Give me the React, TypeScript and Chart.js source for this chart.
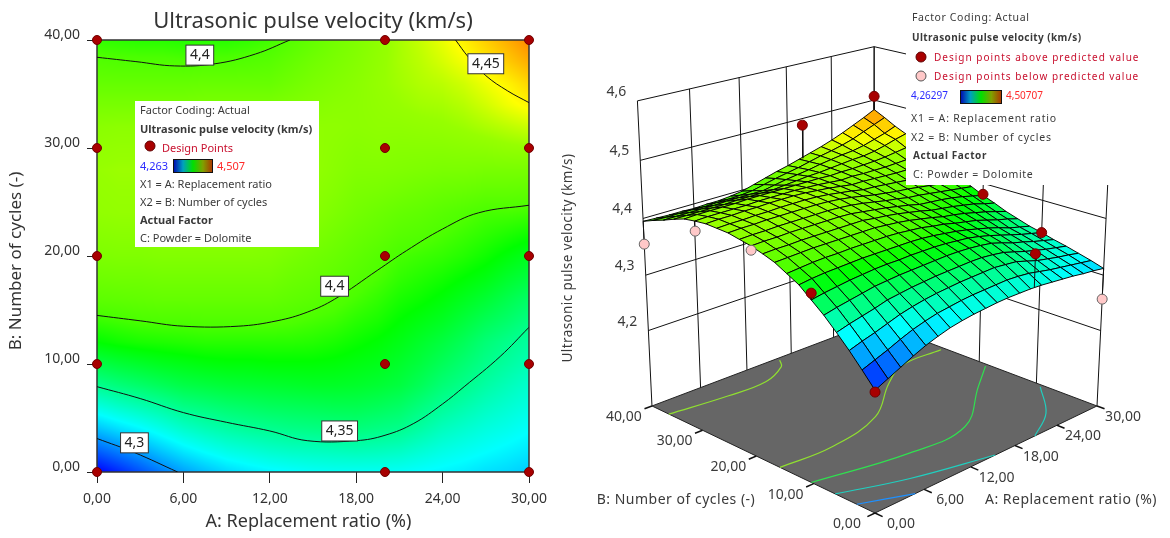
import React, { useEffect, useRef } from "react";
import { Chart, registerables } from "chart.js";

Chart.register(...registerables);

const FONT = '"Noto Sans"';
const TITLE = "Ultrasonic pulse velocity (km/s)";
const X_TITLE = "A: Replacement ratio (%)";
const Y_TITLE = "B: Number of cycles (-)";
const Z_TITLE = TITLE;
const A_TICKS = [0, 6, 12, 18, 24, 30];
const B_TICKS = [0, 10, 20, 30, 40];
const Z_TICKS = [4.2, 4.3, 4.4, 4.5, 4.6];
const Z_FLOOR = 4.06;
const DESIGN_A = [0, 20, 30];
const DESIGN_B = [0, 10, 20, 30, 40];

// Predicted velocity, km/s: rows B = 0, 2 ... 40; columns A = 0, 1.5 ... 30
const velocity = [
  [4.263,4.273,4.283,4.293,4.302,4.309,4.315,4.319,4.322,4.324,4.326,4.327,4.327,4.327,4.326,4.324,4.322,4.320,4.317,4.315,4.312],
  [4.287,4.295,4.303,4.312,4.320,4.326,4.331,4.334,4.337,4.339,4.340,4.341,4.342,4.341,4.339,4.335,4.331,4.328,4.325,4.322,4.319],
  [4.310,4.317,4.323,4.330,4.337,4.342,4.346,4.349,4.351,4.353,4.354,4.355,4.356,4.354,4.352,4.346,4.340,4.336,4.332,4.329,4.325],
  [4.331,4.337,4.342,4.347,4.353,4.356,4.359,4.361,4.363,4.364,4.365,4.366,4.366,4.364,4.361,4.355,4.349,4.344,4.339,4.335,4.331],
  [4.351,4.356,4.360,4.364,4.368,4.370,4.372,4.373,4.374,4.375,4.376,4.376,4.375,4.373,4.370,4.364,4.357,4.352,4.346,4.341,4.336],
  [4.368,4.372,4.375,4.378,4.380,4.382,4.383,4.383,4.384,4.384,4.384,4.383,4.381,4.379,4.375,4.370,4.364,4.358,4.352,4.347,4.342],
  [4.385,4.388,4.390,4.391,4.392,4.393,4.393,4.393,4.393,4.393,4.392,4.390,4.387,4.384,4.380,4.375,4.370,4.364,4.357,4.352,4.347],
  [4.396,4.398,4.400,4.401,4.401,4.402,4.402,4.402,4.402,4.401,4.399,4.397,4.393,4.390,4.385,4.381,4.377,4.371,4.365,4.360,4.354],
  [4.407,4.408,4.409,4.410,4.410,4.410,4.410,4.410,4.410,4.408,4.406,4.403,4.399,4.395,4.390,4.387,4.383,4.378,4.373,4.367,4.361],
  [4.414,4.415,4.415,4.416,4.416,4.416,4.416,4.416,4.416,4.413,4.411,4.408,4.404,4.400,4.395,4.392,4.389,4.385,4.381,4.375,4.370],
  [4.420,4.421,4.421,4.422,4.422,4.422,4.422,4.422,4.421,4.418,4.415,4.412,4.408,4.404,4.399,4.397,4.395,4.392,4.388,4.383,4.378],
  [4.424,4.425,4.425,4.426,4.426,4.426,4.426,4.426,4.425,4.423,4.420,4.416,4.412,4.409,4.405,4.403,4.400,4.397,4.394,4.391,4.388],
  [4.428,4.429,4.429,4.430,4.430,4.430,4.430,4.430,4.429,4.427,4.424,4.420,4.416,4.413,4.410,4.408,4.405,4.402,4.399,4.399,4.398],
  [4.429,4.430,4.430,4.431,4.431,4.432,4.432,4.432,4.431,4.429,4.426,4.423,4.419,4.418,4.416,4.414,4.412,4.411,4.409,4.409,4.408],
  [4.430,4.431,4.431,4.432,4.432,4.433,4.433,4.433,4.432,4.430,4.428,4.425,4.422,4.422,4.421,4.420,4.419,4.419,4.418,4.418,4.418],
  [4.428,4.429,4.429,4.429,4.429,4.430,4.430,4.430,4.430,4.429,4.428,4.426,4.424,4.425,4.424,4.424,4.424,4.425,4.426,4.428,4.429],
  [4.425,4.426,4.426,4.426,4.426,4.427,4.427,4.427,4.427,4.427,4.427,4.427,4.426,4.427,4.427,4.428,4.429,4.431,4.434,4.437,4.440],
  [4.418,4.418,4.418,4.418,4.418,4.419,4.419,4.419,4.419,4.421,4.423,4.425,4.426,4.428,4.430,4.432,4.433,4.436,4.441,4.447,4.452],
  [4.410,4.410,4.410,4.410,4.410,4.411,4.411,4.411,4.411,4.415,4.419,4.422,4.425,4.429,4.432,4.435,4.437,4.441,4.447,4.453,4.461],
  [4.403,4.402,4.402,4.402,4.401,4.402,4.402,4.403,4.405,4.410,4.415,4.419,4.423,4.428,4.433,4.437,4.442,4.448,4.456,4.464,4.472],
  [4.395,4.394,4.393,4.393,4.392,4.393,4.393,4.395,4.398,4.404,4.410,4.416,4.421,4.427,4.433,4.439,4.446,4.454,4.463,4.472,4.482],
];

// Contour lines of the left plot, [A, B]
const contour430 = [[0,3.1],[2.6,1.8],[5.6,0]];
const contour435 = [[0,7.9],[3,6.8],[6,5.5],[9,4.6],[12,3.8],[14.6,2.9],[18,2.9],[20,3.4],[22,4.5],[24,6.3],[25.5,7.9],[28,10.7],[30,13.4]];
const contour440Low = [[0,14.5],[3,14],[6,13.5],[9.8,13.5],[12.5,14],[14.6,14.8],[16.5,16],[19.5,18.7],[21.5,20.5],[24,22.5],[26.5,24],[30,24.7]];
const contour440High = [[0,38.4],[2.7,38],[5.4,37.6],[8.2,37.8],[11,38.7],[13.4,40]];
const contour445 = [[24.9,40],[25.8,38.4],[27,36.7],[28.5,35.3],[30,34.2]];

// Contours projected on the floor of the 3D plot, [A, B]
const floorBlue = [[0,2.9],[4.9,0]];
const floorTealA = [[0,6.4],[6.6,3],[15.3,0]];
const floorTealB = [[20.8,0],[25.3,3.2],[29.6,8.9]];
const floorGreen = [[0,10.4],[10.2,7.6],[17.7,7.8],[25.3,14.6],[29.6,18.4]];
const floorLime = [[0,15.8],[6.1,15.4],[13.4,17.7],[19.7,23.6],[23.9,26.5],[29.5,26.4]];
const floorLimeTop = [[0,36.6],[6.6,35.5],[11.5,35.4],[15,37.6],[16,39.4]];

// Measured design points visible in the 3D plot, [A, B, velocity]
const aboveA = [0, 30, 20, 0, 30, 30, 20];
const aboveB = [0, 40, 40, 10, 20, 10, 0];
const aboveV = [4.26, 4.507, 4.488, 4.379, 4.38, 4.342, 4.384];
const belowA = [0, 0, 0, 30];
const belowB = [40, 30, 20, 0];
const belowV = [4.355, 4.411, 4.413, 4.257];

const contourLabels = [
  { text: "4,4", a: 7.14, b: 38.6 },
  { text: "4,45", a: 27, b: 37.8 },
  { text: "4,4", a: 16.5, b: 17.2 },
  { text: "4,35", a: 16.85, b: 3.8 },
  { text: "4,3", a: 2.6, b: 2.7 },
];

const comma = (v: number, d = 2) => v.toFixed(d).replace(".", ",");

function colorOf(v: number): [number, number, number] {
  const stops: [number, number[]][] = [
    [4.263, [0, 0, 255]],
    [4.324, [0, 255, 255]],
    [4.385, [0, 255, 0]],
    [4.4, [75, 255, 0]],
    [4.43, [150, 255, 0]],
    [4.45, [255, 255, 0]],
    [4.52, [255, 0, 0]],
  ];
  if (v <= stops[0][0]) return [0, 0, 255];
  for (let i = 1; i < stops.length; i++) {
    if (v <= stops[i][0]) {
      const t = (v - stops[i - 1][0]) / (stops[i][0] - stops[i - 1][0]);
      const p = stops[i - 1][1], q = stops[i][1];
      return [p[0] + (q[0] - p[0]) * t, p[1] + (q[1] - p[1]) * t, p[2] + (q[2] - p[2]) * t];
    }
  }
  return [255, 0, 0];
}

function text(ctx: any, s: string, x: number, y: number, o: any = {}) {
  ctx.save();
  ctx.font = o.font || `11px ${FONT}`;
  ctx.fillStyle = o.color || "#3a3a3a";
  ctx.textAlign = o.align || "left";
  ctx.textBaseline = "middle";
  ctx.letterSpacing = (o.ls || 0) + "px";
  ctx.translate(x, y);
  if (o.rot) ctx.rotate(o.rot);
  ctx.fillText(s, 0, 0);
  ctx.restore();
}

function legendBar(ctx: any, x: number, y: number, w: number, h: number) {
  const g = ctx.createLinearGradient(x, 0, x + w, 0);
  g.addColorStop(0, "#0000b0");
  g.addColorStop(0.25, "#00a0c0");
  g.addColorStop(0.5, "#00e000");
  g.addColorStop(0.75, "#80a000");
  g.addColorStop(1, "#b03000");
  ctx.fillStyle = g;
  ctx.fillRect(x, y, w, h);
  ctx.strokeStyle = "#111";
  ctx.lineWidth = 1;
  ctx.strokeRect(x + 0.5, y + 0.5, w - 1, h - 1);
}

function dot(ctx: any, x: number, y: number, fill: string, edge: string) {
  ctx.beginPath();
  ctx.arc(x, y, 5, 0, Math.PI * 2);
  ctx.fillStyle = fill;
  ctx.fill();
  ctx.strokeStyle = edge;
  ctx.lineWidth = 1;
  ctx.stroke();
}

const contourPlugin = {
  id: "contourBackground",
  beforeDatasetsDraw(chart: any) {
    const { ctx, chartArea: c } = chart;
    const w = Math.round(c.right - c.left), h = Math.round(c.bottom - c.top);
    const img = ctx.createImageData(w, h);
    for (let py = 0; py < h; py++) {
      const by = ((h - 1 - py) / (h - 1)) * 20;
      const j = Math.min(19, Math.floor(by)), fy = by - j;
      for (let px = 0; px < w; px++) {
        const bx = (px / (w - 1)) * 20;
        const i = Math.min(19, Math.floor(bx)), fx = bx - i;
        const v =
          (velocity[j][i] * (1 - fx) + velocity[j][i + 1] * fx) * (1 - fy) +
          (velocity[j + 1][i] * (1 - fx) + velocity[j + 1][i + 1] * fx) * fy;
        const col = colorOf(v);
        const k = (py * w + px) * 4;
        img.data[k] = col[0]; img.data[k + 1] = col[1]; img.data[k + 2] = col[2]; img.data[k + 3] = 255;
      }
    }
    ctx.putImageData(img, Math.round(c.left), Math.round(c.top));
    ctx.strokeStyle = "#333";
    ctx.lineWidth = 1.5;
    ctx.strokeRect(c.left, c.top, w, h);
  },
  afterDatasetsDraw(chart: any) {
    const { ctx, scales } = chart;
    const font = `14px ${FONT}`;
    contourLabels.forEach((l) => {
      const x = scales.x.getPixelForValue(l.a), y = scales.y.getPixelForValue(l.b);
      ctx.font = font;
      const w = ctx.measureText(l.text).width + 8;
      ctx.fillStyle = "#fff";
      ctx.fillRect(x - w / 2, y - 10, w, 20);
      ctx.strokeStyle = "#333";
      ctx.lineWidth = 1;
      ctx.strokeRect(x - w / 2, y - 10, w, 20);
      text(ctx, l.text, x, y, { font, align: "center", color: "#222" });
    });
    ctx.fillStyle = "#fff";
    ctx.fillRect(135, 101, 184, 146);
    const B = `bold 11px ${FONT}`;
    text(ctx, "Factor Coding: Actual", 140, 110.5);
    text(ctx, TITLE, 140, 129.5, { font: B });
    dot(ctx, 150, 146, "#a80000", "#600000");
    text(ctx, "Design Points", 162, 148.5, { color: "#c8102e" });
    text(ctx, "4,263", 140, 166.5, { color: "#2a2aff" });
    legendBar(ctx, 173, 159, 40, 14);
    text(ctx, "4,507", 217, 166.5, { color: "#ff2a2a" });
    text(ctx, "X1 = A: Replacement ratio", 140, 184.5);
    text(ctx, "X2 = B: Number of cycles", 140, 202.5);
    text(ctx, "Actual Factor", 140, 220.5, { font: B });
    text(ctx, "C: Powder = Dolomite", 140, 238.5);
    text(ctx, X_TITLE, 308.5, 522, { font: `18px ${FONT}`, align: "center", color: "#333" });
    text(ctx, Y_TITLE, 16, 261, { font: `17px ${FONT}`, align: "center", color: "#333", rot: -Math.PI / 2 });
  },
};

function project(A: number, B: number, V: number) {
  const a = A / 30, b = B / 40, h = (V - Z_FLOOR) / (4.6 - Z_FLOOR);
  const w = 1 + 0.137 * a + 0.137 * b - 0.0702 * h;
  return { x: (875 + 372.3 * a - 133.7 * b - 61.3 * h) / w, y: (513 - 51.4 * a - 51.4 * b - 354 * h) / w };
}

const surfacePlugin = {
  id: "surface3d",
  beforeDatasetsDraw(chart: any) {
    const { ctx, scales } = chart;
    const P = (A: number, B: number, V: number) => {
      const p = project(A, B, V);
      return [scales.x.getPixelForValue(p.x), scales.y.getPixelForValue(p.y)];
    };
    const f = [P(0, 0, Z_FLOOR), P(30, 0, Z_FLOOR), P(30, 40, Z_FLOOR), P(0, 40, Z_FLOOR)];
    ctx.beginPath();
    f.forEach((p, i) => (i ? ctx.lineTo(p[0], p[1]) : ctx.moveTo(p[0], p[1])));
    ctx.closePath();
    ctx.fillStyle = "#666666";
    ctx.fill();
  },
  beforeDatasetDraw(chart: any, args: any) {
    if (chart.data.datasets[args.index].label !== "Stems above") return;
    const { ctx, scales } = chart;
    const P = (A: number, B: number, V: number) => {
      const p = project(A, B, V);
      return [scales.x.getPixelForValue(p.x), scales.y.getPixelForValue(p.y)];
    };
    ctx.save();
    ctx.lineWidth = 1;
    ctx.strokeStyle = "rgba(0,0,0,0.95)";
    for (let j = 19; j >= 0; j--) {
      for (let i = 19; i >= 0; i--) {
        const q = [[i, j], [i + 1, j], [i + 1, j + 1], [i, j + 1]];
        const avg = q.reduce((s, c) => s + velocity[c[1]][c[0]], 0) / 4;
        const col = colorOf(avg);
        ctx.beginPath();
        q.forEach((c, k) => {
          const p = P(c[0] * 1.5, c[1] * 2, velocity[c[1]][c[0]]);
          if (k) ctx.lineTo(p[0], p[1]); else ctx.moveTo(p[0], p[1]);
        });
        ctx.closePath();
        ctx.fillStyle = `rgb(${col[0]},${col[1]},${col[2]})`;
        ctx.fill();
        ctx.stroke();
      }
    }
    ctx.restore();
  },
  afterDatasetsDraw(chart: any) {
    const { ctx, scales } = chart;
    const off = 560;
    const P = (A: number, B: number, V: number) => {
      const p = project(A, B, V);
      return [scales.x.getPixelForValue(p.x), scales.y.getPixelForValue(p.y)];
    };
    const tick = `14px ${FONT}`;
    A_TICKS.forEach((A) => {
      const p = P(A, 0, Z_FLOOR);
      text(ctx, comma(A), p[0] + 26, p[1] + 11, { font: tick, align: "center" });
    });
    B_TICKS.forEach((B) => {
      const p = P(0, B, Z_FLOOR);
      text(ctx, comma(B), p[0] - 28, p[1] + 11, { font: tick, align: "center" });
    });
    Z_TICKS.forEach((V) => {
      const p = P(0, 40, V);
      text(ctx, comma(V, 1), p[0] - 21, p[1] - 9, { font: tick, align: "center" });
    });
    text(ctx, Z_TITLE, 568 - off, 258, { font: `13.5px ${FONT}`, align: "center", rot: -Math.PI / 2, ls: 0.4 });
    text(ctx, Y_TITLE, 676 - off, 500, { font: `14px ${FONT}`, align: "center", ls: 0.5 });
    text(ctx, X_TITLE, 1071 - off, 500, { font: `14px ${FONT}`, align: "center", ls: 0.5 });

    ctx.fillStyle = "#fff";
    ctx.fillRect(906 - off, 0, 264, 185);
    const lx = 911 - off;
    const B = `bold 10px ${FONT}`;
    const F = `10.5px ${FONT}`;
    text(ctx, "Factor Coding: Actual", lx + 1, 18, { font: F, ls: 0.6 });
    text(ctx, TITLE, lx + 1, 38, { font: B, ls: 0.4 });
    dot(ctx, 921 - off, 57, "#a80000", "#600000");
    text(ctx, "Design points above predicted value", 934 - off, 58, { font: `10px ${FONT}`, color: "#c8102e", ls: 1 });
    dot(ctx, 921 - off, 76, "#ffc8c8", "#555");
    text(ctx, "Design points below predicted value", 934 - off, 77, { font: `10px ${FONT}`, color: "#c8102e", ls: 1 });
    text(ctx, "4,26297", lx, 96, { font: `10px ${FONT}`, color: "#2a2aff" });
    legendBar(ctx, 960 - off, 90, 42, 14);
    text(ctx, "4,50707", 1006 - off, 96, { font: `10px ${FONT}`, color: "#ff2a2a" });
    text(ctx, "X1 = A: Replacement ratio", lx, 119, { font: F, ls: 0.8 });
    text(ctx, "X2 = B: Number of cycles", lx, 138, { font: F, ls: 0.8 });
    text(ctx, "Actual Factor", lx + 2, 156, { font: B, ls: 0.6 });
    text(ctx, "C: Powder = Dolomite", lx + 2, 175, { font: F, ls: 0.7 });
  },
};

const line = (label: string, data: any[], color: string, width = 1, tension = 0) => ({
  type: "scatter", label, data, showLine: true, borderColor: color, borderWidth: width,
  pointRadius: 0, tension, clip: false, fill: false,
});

const floorLine = (label: string, pts: number[][], color: string) =>
  line(label, pts.map(([A, B]) => project(A, B, Z_FLOOR)), color, 1.2, 0.4);

const surfaceAt = (A: number, B: number) => velocity[Math.round(B / 2)][Math.round(A / 1.5)];

function leftConfig(): any {
  const designPts = DESIGN_A.flatMap((x) => DESIGN_B.map((y) => ({ x, y })));
  const contour = (label: string, pts: number[][]) =>
    ({ ...line(label, pts.map(([x, y]) => ({ x, y })), "#111", 1, 0.4), clip: true });
  return {
    type: "scatter",
    data: {
      datasets: [
        { label: "Design Points", data: designPts, pointRadius: 4.5, pointBackgroundColor: "#a80000", pointBorderColor: "#700000", pointBorderWidth: 1, clip: false },
        contour("4,3", contour430), contour("4,35", contour435), contour("4,4 lower", contour440Low),
        contour("4,4 upper", contour440High), contour("4,45", contour445),
      ],
    },
    options: {
      responsive: false, animation: false,
      layout: { padding: { right: 31 }, autoPadding: false },
      plugins: {
        legend: { display: false }, tooltip: { enabled: false },
        title: { display: true, text: TITLE, fullSize: false, color: "#333", font: { family: FONT, size: 22, weight: "normal" }, padding: { top: 9, bottom: 4.6 } },
      },
      scales: {
        x: {
          type: "linear", min: 0, max: 30,
          afterFit: (s: any) => { s.height = 66; },
          afterBuildTicks: (s: any) => { s.ticks = A_TICKS.map((value) => ({ value })); },
          grid: { drawOnChartArea: false, tickLength: 11, tickColor: "#222" }, border: { display: false },
          ticks: { padding: 8, color: "#333", font: { family: FONT, size: 14 }, maxRotation: 0, callback: (v: number) => comma(v) },
        },
        y: {
          type: "linear", min: 0, max: 40,
          afterFit: (s: any) => { s.width = 97; },
          afterBuildTicks: (s: any) => { s.ticks = B_TICKS.map((value) => ({ value })); },
          grid: { drawOnChartArea: false, tickLength: 10, tickColor: "#222" }, border: { display: false },
          ticks: { padding: 7, labelOffset: -5, color: "#333", font: { family: FONT, size: 14 }, callback: (v: number) => comma(v) },
        },
      },
    },
    plugins: [contourPlugin],
  };
}

function rightConfig(): any {
  const walls: any[] = [];
  Z_TICKS.forEach((V) => {
    walls.push(line(`Wall B ${V}`, [project(0, 40, V), project(30, 40, V)], "#111"));
    walls.push(line(`Wall A ${V}`, [project(30, 40, V), project(30, 0, V)], "#111"));
  });
  A_TICKS.forEach((A) => {
    walls.push(line(`Upright A ${A}`, [project(A, 40, Z_FLOOR), project(A, 40, 4.6)], "#111"));
    walls.push(line(`Tick A ${A}`, [project(A, 0, Z_FLOOR), project(A, -1.2, Z_FLOOR)], "#111", 1.5));
  });
  B_TICKS.forEach((B) => {
    walls.push(line(`Upright B ${B}`, [project(30, B, Z_FLOOR), project(30, B, 4.6)], "#111"));
    walls.push(line(`Tick B ${B}`, [project(0, B, Z_FLOOR), project(-0.9, B, Z_FLOOR)], "#111", 1.5));
  });
  walls.push(line("Floor edge", [project(0, 0, Z_FLOOR), project(30, 0, Z_FLOOR), project(30, 40, Z_FLOOR), project(0, 40, Z_FLOOR), project(0, 0, Z_FLOOR)], "#222"));
  const stems = (A: number[], B: number[], V: number[]) =>
    A.flatMap((a, i) => [project(a, B[i], V[i]), project(a, B[i], surfaceAt(a, B[i])), { x: NaN, y: NaN }]);
  const marks = (A: number[], B: number[], V: number[]) => A.map((a, i) => project(a, B[i], V[i]));
  return {
    type: "scatter",
    data: {
      datasets: [
        { label: "Design points below predicted value", data: marks(belowA, belowB, belowV), pointRadius: 5, pointBackgroundColor: "#ffc8c8", pointBorderColor: "#666", pointBorderWidth: 1, clip: false },
        { label: "Design points above predicted value", data: marks(aboveA, aboveB, aboveV), pointRadius: 5, pointBackgroundColor: "#a80000", pointBorderColor: "#700000", pointBorderWidth: 1, clip: false },
        line("Stems above", stems(aboveA, aboveB, aboveV), "#111"),
        line("Stems below", stems(belowA, belowB, belowV), "#111"),
        floorLine("Floor 4,3", floorBlue, "#1e90ff"),
        floorLine("Floor 4,33 a", floorTealA, "#20d0c0"),
        floorLine("Floor 4,33 b", floorTealB, "#20d0c0"),
        floorLine("Floor 4,37", floorGreen, "#30e050"),
        floorLine("Floor 4,4", floorLime, "#90e030"),
        floorLine("Floor 4,4 top", floorLimeTop, "#90e030"),
        ...walls,
      ],
    },
    options: {
      responsive: false, animation: false,
      layout: { padding: 0, autoPadding: false },
      plugins: { legend: { display: false }, tooltip: { enabled: false } },
      scales: {
        x: { type: "linear", display: false, min: 560, max: 1170 },
        y: { type: "linear", display: false, min: 0, max: 538, reverse: true },
      },
    },
    plugins: [surfacePlugin],
  };
}

export default function App() {
  const left = useRef<HTMLCanvasElement>(null);
  const right = useRef<HTMLCanvasElement>(null);
  useEffect(() => {
    const a = new Chart(left.current as any, leftConfig());
    const b = new Chart(right.current as any, rightConfig());
    return () => { a.destroy(); b.destroy(); };
  }, []);
  const base: any = { position: "absolute", top: 0, display: "block" };
  return (
    <div style={{ position: "absolute", left: 0, top: 0, width: 1170, height: 538, background: "#fff", overflow: "hidden" }}>
      <canvas ref={left} width={560} height={538} style={{ ...base, left: 0, width: 560, height: 538 }} />
      <canvas ref={right} width={610} height={538} style={{ ...base, left: 560, width: 610, height: 538 }} />
    </div>
  );
}
